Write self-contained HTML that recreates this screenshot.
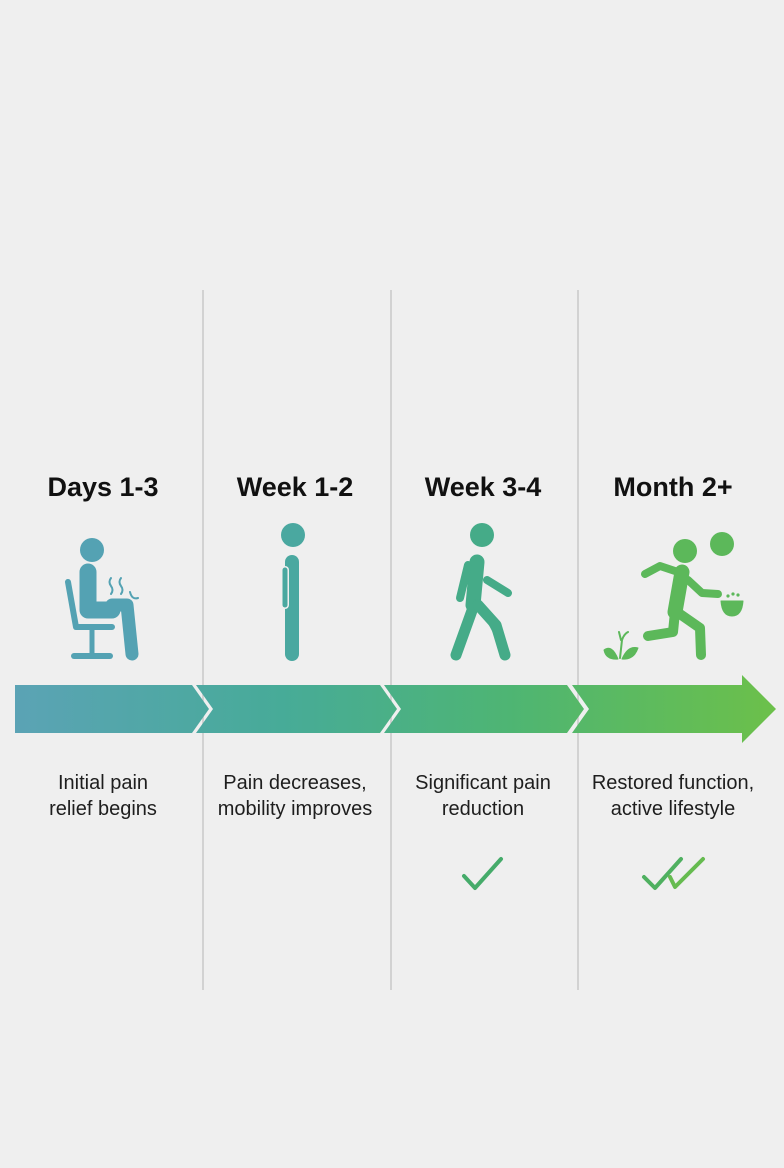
<!DOCTYPE html>
<html><head><meta charset="utf-8"><style>
html,body{margin:0;padding:0;background:#efefef}
svg{display:block}
text{font-family:"Liberation Sans",sans-serif}
</style></head><body>
<svg width="784" height="1168" viewBox="0 0 784 1168" xmlns="http://www.w3.org/2000/svg">
<defs>
<linearGradient id="g" x1="15" y1="0" x2="776" y2="0" gradientUnits="userSpaceOnUse">
<stop offset="0" stop-color="#5ba3b5"/>
<stop offset="0.35" stop-color="#47ab98"/>
<stop offset="0.65" stop-color="#4eb573"/>
<stop offset="1" stop-color="#6cc04a"/>
</linearGradient>
</defs>
<rect width="784" height="1168" fill="#efefef"/>
<g stroke="#c9c9c9" stroke-width="1.5">
<line x1="203" y1="290" x2="203" y2="990"/>
<line x1="391" y1="290" x2="391" y2="990"/>
<line x1="578" y1="290" x2="578" y2="990"/>
</g>
<g font-size="27" font-weight="bold" fill="#111" text-anchor="middle">
<text x="103" y="496">Days 1-3</text>
<text x="295" y="496">Week 1-2</text>
<text x="483" y="496">Week 3-4</text>
<text x="673" y="496">Month 2+</text>
</g>
<!-- arrows -->
<g fill="url(#g)">
<polygon points="15,685 192,685 209,709 192,733 15,733"/>
<polygon points="196,685 380,685 397,709 380,733 196,733 213,709"/>
<polygon points="384,685 567,685 584,709 567,733 384,733 401,709"/>
<polygon points="572,685 742,685 742,675 776,709 742,743 742,733 572,733 589,709"/>
</g>
<!-- sitting person -->
<g fill="#54a2b3" stroke="#54a2b3" stroke-linecap="round" stroke-linejoin="round">
<circle cx="92" cy="550" r="12" stroke="none"/>
<path d="M88 572 L88 610 L112 610" stroke-width="17" fill="none"/>
<path d="M112 605 L127 605 L132 654" stroke-width="13" fill="none"/>
<path d="M68 582 L76 627 L112 627" stroke-width="6" fill="none"/>
<path d="M92 628 L92 655" stroke-width="5" fill="none"/>
<path d="M74 656 L110 656" stroke-width="6" fill="none"/>
<path d="M111 578 q-3 4 0 8 q3 4 0 8 M121 578 q-3 4 0 8 q3 4 0 8 M130 592 q2 8 8 6" stroke-width="2" fill="none"/>
</g>
<!-- standing -->
<g fill="#4aa8a0" stroke="#4aa8a0" stroke-linecap="round">
<circle cx="293" cy="535" r="12" stroke="none"/>
<path d="M292 562 L292 654" stroke-width="14"/>
<path d="M285 570 L285 605" stroke-width="8" stroke="#efefef"/>
<path d="M285 570 L285 605" stroke-width="5"/>
</g>
<!-- walker -->
<g fill="#45ab88" stroke="#45ab88" stroke-linecap="round" stroke-linejoin="round" fill="none">
<circle cx="482" cy="535" r="12" fill="#45ab88" stroke="none"/>
<path d="M477 562 L473 605" stroke-width="15"/>
<path d="M468 565 L460 598" stroke-width="8"/>
<path d="M487 580 L508 593" stroke-width="8"/>
<path d="M474 605 L456 655" stroke-width="11"/>
<path d="M478 605 L496 625 L505 655" stroke-width="11"/>
</g>
<!-- runner -->
<g fill="#5cb85a" stroke="#5cb85a" stroke-linecap="round" stroke-linejoin="round">
<circle cx="685" cy="551" r="12" stroke="none"/>
<circle cx="722" cy="544" r="12" stroke="none"/>
<path d="M682 572 L675 612" stroke-width="15" fill="none"/>
<path d="M678 572 L660 566 L645 574" stroke-width="8" fill="none"/>
<path d="M688 580 L702 593 L718 594" stroke-width="8" fill="none"/>
<path d="M675 612 L673 632 L648 636" stroke-width="10" fill="none"/>
<path d="M677 612 L700 628 L701 655" stroke-width="10" fill="none"/>
<path d="M721 601 L743 601 Q742 616 732 616 Q722 616 721 601Z" stroke-width="1"/>
<circle cx="728" cy="596" r="1.6" stroke="none"/><circle cx="733" cy="594" r="1.6" stroke="none"/><circle cx="738" cy="595" r="1.6" stroke="none"/>
<path d="M620 658 L622 640 Q624 634 628 632 M621 640 L619 632" stroke-width="2" fill="none"/>
<path d="M604 650 Q612 644 618 659 Q606 660 604 650Z M622 659 Q628 645 638 648 Q634 660 622 659Z" stroke-width="1"/>
</g>
<!-- descriptions -->
<g font-size="20" fill="#1e1e1e" text-anchor="middle">
<text x="103" y="789">Initial pain</text>
<text x="103" y="815">relief begins</text>
<text x="295" y="789">Pain decreases,</text>
<text x="295" y="815">mobility improves</text>
<text x="483" y="789">Significant pain</text>
<text x="483" y="815">reduction</text>
<text x="673" y="789">Restored function,</text>
<text x="673" y="815">active lifestyle</text>
</g>
<g fill="none" stroke-linecap="round" stroke-linejoin="round" stroke-width="4">
<path d="M464 876 L475 888 L501 859" stroke="#45ab6a"/>
<path d="M644 877 L655 888 L681 859" stroke="#4fb060"/>
<path d="M670 877 L675 887 L703 859" stroke="#66bb50"/>
</g>
</svg>
</body></html>
